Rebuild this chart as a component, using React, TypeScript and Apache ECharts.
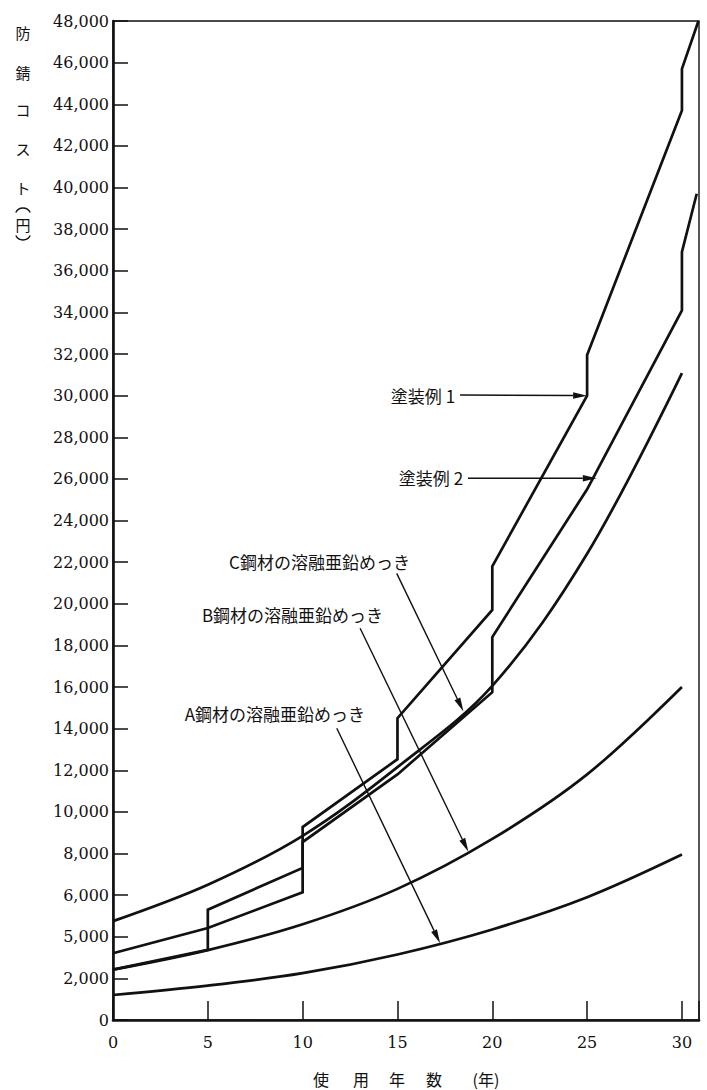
import React, { useEffect, useRef } from "react";
import * as echarts from "echarts";

// ---- data (years, yen) ----
const yearTicks = [0, 5, 10, 15, 20, 25, 30];
const printedCostLabels: Record<number, string> = { 4000: "5,000" }; // as printed in the source

const galvA: number[][] = [[0, 1200], [5, 1650], [10, 2250], [15, 3150], [20, 4350], [25, 5900], [30, 7950]];
const galvB: number[][] = [[0, 2420], [5, 3360], [10, 4600], [15, 6300], [20, 8700], [25, 11800], [30, 16000]];
const galvC: number[][] = [[0, 4750], [5, 6500], [10, 8850], [15, 12150], [20, 16050], [25, 22400], [30, 31080]];
const paint1: number[][] = [
  [0, 2420], [5, 3370], [5, 5300], [10, 7310], [10, 9270], [15, 12530], [15, 14500],
  [20, 19700], [20, 21800], [25, 30000], [25, 31950], [30, 43700], [30, 45700], [30.87, 48000],
];
const paint2: number[][] = [
  [0, 3210], [5, 4420], [10, 6140], [10, 8550], [15, 11800], [20, 15750], [20, 18400],
  [25, 25500], [30, 34100], [30, 36900], [30.78, 39700],
];

// ---- annotations (data coordinates) ----
const noteTexts = ["塗装例 1", "塗装例 2", "C鋼材の溶融亜鉛めっき", "B鋼材の溶融亜鉛めっき", "A鋼材の溶融亜鉛めっき"];
const noteAnchors: number[][] = [[18.04, 30030], [18.46, 26050], [15.66, 22050], [14.24, 19460], [13.29, 14750]];
const arrowFrom: number[][] = [[18.3, 30030], [18.72, 26030], [14.96, 21460], [13.03, 18820], [11.8, 14020]];
const arrowTo: number[][] = [[25, 30000], [25.51, 26030], [18.48, 14820], [18.74, 8080], [17.25, 3690]];

const yTitleChars = ["防", "錆", "コ", "ス", "ト", "円"];
const yTitleY = [32, 72, 109, 148, 187, 224];
const xTitleParts = ["使", "用", "年", "数", "(年)"];
const xTitleX = [321, 361, 397, 434, 486];

const INK = "#111";
const NUM_FONT = "DejaVu Serif";
const JP_FONT = "Noto Sans CJK JP";

export default function App() {
  const ref = useRef<HTMLDivElement>(null);
  useEffect(() => {
    if (!ref.current) return;
    const chart = echarts.init(ref.current, undefined, { renderer: "svg" });
    const curve = (name: string, data: number[][], smooth: boolean) => ({
      name,
      type: "line",
      data,
      smooth: smooth ? 0.35 : false,
      symbol: "none",
      silent: true,
      lineStyle: { color: INK, width: 2.7, join: "miter", cap: "butt" },
      z: 3,
    });
    chart.setOption({
      animation: false,
      backgroundColor: "#fff",
      grid: {
        left: 113, top: 21, width: 586, height: 999,
        show: true, borderColor: INK, borderWidth: 1.4, backgroundColor: "transparent",
      },
      xAxis: {
        type: "value", min: 0, max: 30.9, interval: 5,
        axisLine: { onZero: false, lineStyle: { color: INK, width: 2.6 } },
        axisTick: { show: true, inside: true, length: 19, lineStyle: { color: INK, width: 1.5 } },
        axisLabel: {
          margin: 14, color: INK, fontFamily: NUM_FONT, fontSize: 16,
          formatter: (v: number) => (yearTicks.includes(v) ? String(v) : ""),
        },
        splitLine: { show: false },
      },
      yAxis: {
        type: "value", min: 0, max: 48000, interval: 2000,
        axisLine: { onZero: false, lineStyle: { color: INK, width: 2.6 } },
        axisTick: { show: true, inside: true, length: 15, lineStyle: { color: INK, width: 1.5 } },
        axisLabel: {
          margin: 4, color: INK, fontFamily: NUM_FONT, fontSize: 16,
          formatter: (v: number) => printedCostLabels[v] ?? v.toLocaleString("en-US"),
        },
        splitLine: { show: false },
      },
      series: [
        curve("A鋼材の溶融亜鉛めっき", galvA, true),
        curve("B鋼材の溶融亜鉛めっき", galvB, true),
        curve("C鋼材の溶融亜鉛めっき", galvC, true),
        curve("塗装例 1", paint1, false),
        curve("塗装例 2", paint2, false),
      ],
    });

    const toPx = (p: number[]) => chart.convertToPixel({ gridIndex: 0 }, p) as number[];
    const graphics: any[] = [];
    noteTexts.forEach((t, i) => {
      const [x, y] = toPx(noteAnchors[i]);
      graphics.push({
        type: "text", x, y, z: 10,
        style: {
          text: t, fill: INK, fontFamily: JP_FONT, fontSize: 17,
          align: "right", textAlign: "right", verticalAlign: "middle", textVerticalAlign: "middle",
        },
      });
      const [x1, y1] = toPx(arrowFrom[i]);
      const [x2, y2] = toPx(arrowTo[i]);
      const dx = x2 - x1, dy = y2 - y1;
      const len = Math.hypot(dx, dy);
      const ux = dx / len, uy = dy / len;
      const hl = 14, hw = 3.2;
      const bx = x2 - ux * hl, by = y2 - uy * hl;
      graphics.push({
        type: "line", z: 10,
        shape: { x1, y1, x2: bx, y2: by },
        style: { stroke: INK, lineWidth: 1.4 },
      });
      graphics.push({
        type: "polygon", z: 10,
        shape: { points: [[x2, y2], [bx - uy * hw, by + ux * hw], [bx + uy * hw, by - ux * hw]] },
        style: { fill: INK },
      });
    });
    // vertical y-axis title: 防錆コスト（円）
    yTitleChars.forEach((c, i) => {
      graphics.push({
        type: "text", x: 23, y: yTitleY[i], z: 10,
        style: {
          text: c, fill: INK, fontFamily: JP_FONT, fontSize: 15,
          align: "center", textAlign: "center", verticalAlign: "middle", textVerticalAlign: "middle",
        },
      });
    });
    // rotated parentheses around 円 drawn as arcs
    graphics.push({
      type: "arc", z: 10,
      shape: { cx: 23, cy: 216, r: 8, startAngle: Math.PI + 0.45, endAngle: 2 * Math.PI - 0.45 },
      style: { stroke: INK, lineWidth: 1.4, fill: "none" },
    });
    graphics.push({
      type: "arc", z: 10,
      shape: { cx: 23, cy: 232, r: 8, startAngle: 0.45, endAngle: Math.PI - 0.45 },
      style: { stroke: INK, lineWidth: 1.4, fill: "none" },
    });
    xTitleParts.forEach((c, i) => {
      graphics.push({
        type: "text", x: xTitleX[i], y: 1079, z: 10,
        style: {
          text: c, fill: INK, fontFamily: JP_FONT, fontSize: 16,
          align: "center", textAlign: "center", verticalAlign: "middle", textVerticalAlign: "middle",
        },
      });
    });
    chart.setOption({ graphic: graphics });

    return () => chart.dispose();
  }, []);
  return (
    <div
      ref={ref}
      style={{ position: "absolute", left: 0, top: 0, width: 707, height: 1090, background: "#fff" }}
    />
  );
}
